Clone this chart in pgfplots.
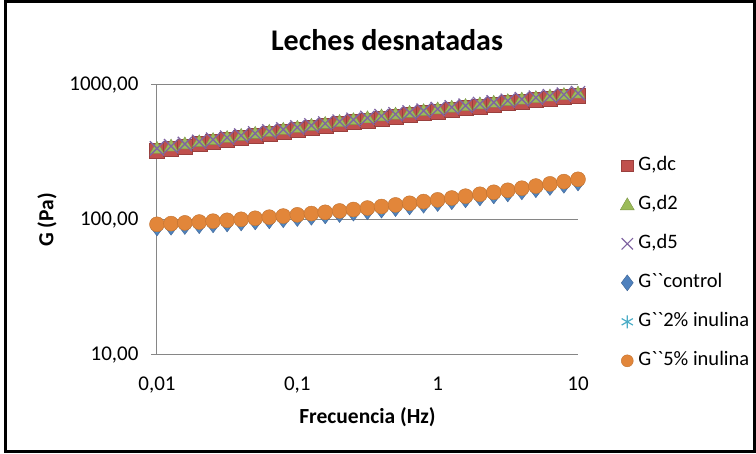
\documentclass[border=0pt]{standalone}
\usepackage{fontspec}
\setmainfont{Carlito}
\usepackage{pgfplots}
\usepackage{pgfplotstable}
\pgfplotsset{compat=1.18}

\definecolor{xred}{RGB}{192,80,77}
\definecolor{xgreen}{RGB}{155,187,89}
\definecolor{xpurple}{RGB}{128,100,162}
\definecolor{xblue}{RGB}{79,129,189}
\definecolor{xaqua}{RGB}{75,172,198}
\definecolor{xorange}{RGB}{226,134,58}
\definecolor{xgrid}{RGB}{134,134,134}

% f (Hz), G' series (dc, d2, d5), G'' series (control, 2%, 5%)
\pgfplotstableread{
f      dc     d2     d5     c      i2     i5
0.01   325.8  334.2  339.2  87.3   90.1   92.9
0.0126 338.4  347.1  352.3  88.4   91.2   94.0
0.0158 351.3  360.3  365.7  89.5   92.3   95.2
0.02   364.5  373.8  379.4  90.8   93.7   96.6
0.0251 377.9  387.6  393.4  92.1   95.1   98.0
0.0316 391.8  401.8  407.8  93.5   96.5   99.5
0.0398 405.9  416.3  422.5  95.1   98.2   101.2
0.0501 420.4  431.2  437.7  96.8   99.9   103.0
0.0631 435.2  446.4  453.1  98.6   101.8  104.9
0.0794 450.4  461.9  468.8  100.5  103.7  106.9
0.1    465.9  477.8  485.0  102.6  105.9  109.2
0.126  481.7  494.0  501.4  104.8  108.2  111.5
0.158  497.8  510.6  518.3  107.2  110.6  114.0
0.2    514.2  527.4  535.3  109.7  113.2  116.7
0.251  531.0  544.6  552.8  112.4  116.0  119.6
0.316  548.0  562.1  570.5  115.2  118.9  122.6
0.398  565.4  579.9  588.6  118.3  122.0  125.8
0.501  583.1  598.0  607.0  121.5  125.4  129.3
0.631  601.0  616.4  625.6  125.0  129.0  133.0
0.794  619.2  635.1  644.6  128.7  132.8  136.9
1      637.7  654.1  663.9  132.5  136.8  141.0
1.26   656.5  673.3  683.4  136.7  141.0  145.4
1.58   675.5  692.8  703.2  141.1  145.6  150.1
2      694.8  712.6  723.3  145.8  150.4  155.1
2.51   714.3  732.6  743.6  150.8  155.6  160.4
3.16   734.0  752.8  764.1  156.0  161.0  166.0
3.98   753.9  773.2  784.8  161.7  166.8  172.0
5.01   774.1  793.9  805.8  167.7  173.0  178.4
6.31   794.3  814.7  826.9  174.1  179.6  185.2
7.94   814.8  835.7  848.2  180.9  186.6  192.4
10     835.5  856.9  869.8  188.1  194.1  200.1
}\datatable

\begin{document}
\begin{tikzpicture}
\useasboundingbox (0,0) rectangle (756pt,454pt);
\draw[line width=3pt] (5pt,2pt) rectangle (754pt,452pt);
\node[font=\bfseries\fontsize{30}{36}\selectfont] at (387pt,414pt) {Leches desnatadas};
\begin{axis}[
  at={(157pt,99pt)}, anchor=south west,
  scale only axis, width=421pt, height=270pt,
  xmode=log, ymode=log,
  xmin=0.01, xmax=10, ymin=10, ymax=1000,
  clip=false,
  axis x line*=bottom, axis y line*=left,
  axis line style={xgrid, -, line width=1pt},
  xtick={0.01,0.1,1,10},
  xticklabels={{0,01},{0,1},{1},{10}},
  ytick={10,100,1000},
  yticklabels={{10,00},{100,00},{1000,00}},
  xminorticks=false, yminorticks=false,
  xtick style={draw=none},
  ytick style={xgrid, line width=1pt},
  tick align=outside, major tick length=6pt,
  ymajorgrids, grid style={xgrid, line width=1pt},
  /pgf/number format/assume math mode=true,
  ticklabel style={font=\fontsize{21}{25}\selectfont},
  xticklabel style={yshift=-12pt},
  yticklabel style={xshift=-9pt},
  xlabel={Frecuencia (Hz)}, ylabel={G (Pa)},
  label style={font=\bfseries\fontsize{21.5}{25}\selectfont},
  xlabel style={at={(axis description cs:0.5,-0.23)}, anchor=center},
  ylabel style={at={(axis description cs:-0.261,0.5)}, anchor=center},
  legend cell align=left,
  legend style={at={(axis description cs:1.093,0.744)}, anchor=north west,
    draw=none, fill=none, font=\fontsize{20.5}{24}\selectfont,
    nodes={text height=14pt, text depth=5pt, inner ysep=0pt},
    row sep=20pt},
]
\addplot[only marks, mark=square*, mark size=7.5pt, xred, mark options={fill=xred, draw=xred!80!black},
  legend image code/.code={\draw[only marks, mark=square*, mark size=5.8pt, xred, mark options={fill=xred, draw=xred!80!black}] plot coordinates {(6pt,0pt)}; \path (15pt,0pt);}]
  table[x=f, y=dc] {\datatable};
\addlegendentry{G,dc}
\addplot[only marks, mark=triangle*, mark size=8pt, xgreen, mark options={fill=xgreen, draw=xgreen!80!black},
  legend image code/.code={\draw[only marks, mark=triangle*, mark size=8pt, xgreen, mark options={fill=xgreen, draw=xgreen!80!black}] plot coordinates {(6pt,-1pt)}; \path (15pt,0pt);}]
  table[x=f, y=d2] {\datatable};
\addlegendentry{G,d2}
\addplot[only marks, mark=x, mark size=10pt, xpurple, mark options={line width=1.3pt},
  legend image code/.code={\draw[only marks, mark=x, mark size=8pt, xpurple, mark options={line width=1.2pt}] plot coordinates {(6pt,0pt)}; \path (15pt,0pt);}]
  table[x=f, y=d5] {\datatable};
\addlegendentry{G,d5}
\addplot[only marks, mark=diamond*, mark size=8pt, xblue, mark options={fill=xblue, draw=xblue!80!black},
  legend image code/.code={\draw[only marks, mark=diamond*, mark size=8pt, xblue, mark options={fill=xblue, draw=xblue!80!black}] plot coordinates {(6pt,0pt)}; \path (15pt,0pt);}]
  table[x=f, y=c] {\datatable};
\addlegendentry{G\textasciigrave\kern0pt\textasciigrave control}
\addplot[only marks, mark=asterisk, mark size=6.5pt, xaqua, mark options={line width=1.1pt},
  legend image code/.code={\draw[only marks, mark=asterisk, mark size=6.5pt, xaqua, mark options={line width=1.2pt}] plot coordinates {(6pt,0pt)}; \path (15pt,0pt);}]
  table[x=f, y=i2] {\datatable};
\addlegendentry{G\textasciigrave\kern0pt\textasciigrave 2\% inulina}
\addplot[only marks, mark=*, mark size=7.5pt, xorange, mark options={fill=xorange, draw=xorange!85!black},
  legend image code/.code={\draw[only marks, mark=*, mark size=6pt, xorange, mark options={fill=xorange, draw=xorange!85!black}] plot coordinates {(6pt,0pt)}; \path (15pt,0pt);}]
  table[x=f, y=i5] {\datatable};
\addlegendentry{G\textasciigrave\kern0pt\textasciigrave 5\% inulina}
\end{axis}
\end{tikzpicture}
\end{document}
